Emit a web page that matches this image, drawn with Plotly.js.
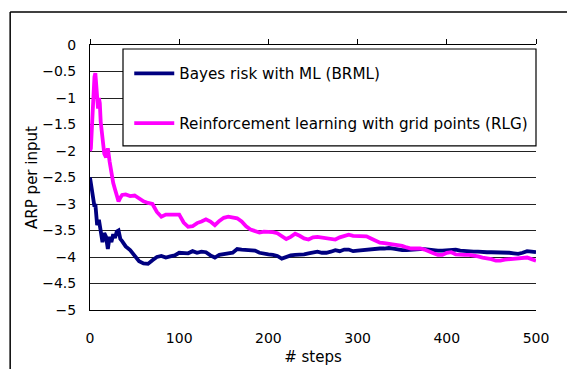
<!DOCTYPE html>
<html>
<head>
<meta charset="utf-8">
<script src="https://cdn.plot.ly/plotly-3.0.1.min.js"></script>
<style>html,body{margin:0;padding:0;background:#fff;}#chart{width:567px;height:369px;}</style>
</head>
<body>
<div id="chart"></div>
<script>
// Bayes risk with ML (BRML)
const stepsBRML = [0,2,4,5,6,8,10,12,14,16,18,20,22,24,26,28,30,32,34,36,40,45,50,55,60,65,70,75,80,85,90,95,100,105,110,115,120,125,130,135,140,145,150,155,160,165,170,175,180,185,190,195,200,205,210,215,220,225,230,235,240,245,250,255,260,265,270,275,280,285,290,295,300,305,310,315,320,325,330,335,340,345,350,355,360,365,370,375,380,385,390,395,400,405,410,415,420,425,430,435,440,445,450,455,460,465,470,475,480,485,490,495,500];
const brml = [-2.5,-2.75,-2.95,-3.05,-3.0,-3.4,-3.3,-3.55,-3.72,-3.55,-3.62,-3.85,-3.62,-3.72,-3.57,-3.64,-3.52,-3.5,-3.66,-3.7,-3.8,-3.87,-3.98,-4.08,-4.12,-4.13,-4.06,-4.0,-3.98,-4.01,-3.99,-3.97,-3.92,-3.93,-3.93,-3.89,-3.92,-3.9,-3.91,-3.97,-4.01,-3.96,-3.94,-3.93,-3.92,-3.85,-3.86,-3.87,-3.88,-3.88,-3.92,-3.94,-3.95,-3.96,-3.98,-4.03,-4.0,-3.97,-3.96,-3.96,-3.95,-3.93,-3.92,-3.9,-3.92,-3.92,-3.9,-3.87,-3.89,-3.86,-3.86,-3.89,-3.88,-3.87,-3.87,-3.86,-3.84,-3.84,-3.84,-3.83,-3.84,-3.86,-3.87,-3.87,-3.86,-3.85,-3.85,-3.85,-3.86,-3.88,-3.88,-3.88,-3.87,-3.87,-3.86,-3.88,-3.89,-3.89,-3.9,-3.9,-3.91,-3.91,-3.91,-3.91,-3.92,-3.92,-3.92,-3.93,-3.94,-3.92,-3.89,-3.9,-3.91];

// Reinforcement learning with grid points (RLG)
const stepsRLG = [0,1,2,3,4,5,6,7,8,9,10,11,12,14,16,18,20,22,24,26,28,30,32,34,36,40,45,50,55,60,65,70,75,80,85,90,95,100,105,110,115,120,125,130,135,140,145,150,155,160,165,170,175,180,185,190,195,200,205,210,215,220,225,230,235,240,245,250,255,260,265,270,275,280,285,290,295,300,305,310,315,320,325,330,335,340,345,350,355,360,365,370,375,380,385,390,395,400,405,410,415,420,425,430,435,440,445,450,455,460,465,470,475,480,485,490,495,500];
const rlg = [-2.0,-1.95,-1.6,-1.2,-0.8,-0.6,-0.53,-0.7,-0.9,-1.2,-1.0,-1.1,-1.45,-1.85,-2.05,-2.12,-1.95,-2.2,-2.45,-2.6,-2.72,-2.85,-2.95,-2.88,-2.83,-2.82,-2.85,-2.84,-2.9,-2.95,-2.98,-3.0,-3.15,-3.24,-3.2,-3.2,-3.19,-3.2,-3.35,-3.43,-3.42,-3.36,-3.33,-3.29,-3.33,-3.4,-3.32,-3.26,-3.24,-3.25,-3.27,-3.33,-3.42,-3.48,-3.51,-3.54,-3.52,-3.52,-3.53,-3.55,-3.6,-3.66,-3.62,-3.56,-3.6,-3.65,-3.67,-3.63,-3.62,-3.63,-3.65,-3.66,-3.67,-3.63,-3.6,-3.58,-3.6,-3.6,-3.6,-3.61,-3.65,-3.7,-3.73,-3.74,-3.75,-3.76,-3.77,-3.79,-3.82,-3.84,-3.84,-3.84,-3.86,-3.9,-3.93,-3.96,-3.96,-3.92,-3.91,-3.95,-3.96,-3.96,-3.96,-3.97,-3.99,-4.01,-4.02,-4.04,-4.07,-4.07,-4.05,-4.04,-4.04,-4.03,-4.02,-4.01,-4.04,-4.07];

const xTicks = [0,100,200,300,400,500];
const yTicks = [0,-0.5,-1,-1.5,-2,-2.5,-3,-3.5,-4,-4.5,-5];
const yTickText = ['0','−0.5','−1','−1.5','−2','−2.5','−3','−3.5','−4','−4.5','−5'];

const FONT = 'DejaVu Sans, sans-serif';

const traces = [
  {x: stepsBRML, y: brml, type: 'scatter', mode: 'lines', name: 'Bayes risk with ML (BRML)',
   line: {color: '#000080', width: 3.8}, legendgroup: 'a'},
  {x: stepsRLG, y: rlg, type: 'scatter', mode: 'lines', name: 'Reinforcement learning with grid points (RLG)',
   line: {color: '#FF00FF', width: 3.8}, legendgroup: 'b', xaxis: 'x2'}
];

const layout = {
  width: 567, height: 369,
  margin: {l: 90, r: 31, t: 45, b: 59},
  paper_bgcolor: '#fff', plot_bgcolor: '#fff',
  font: {family: FONT, size: 14, color: '#000'},
  showlegend: true,
  legend: {x: 0.088, y: 0.955, xanchor: 'left', yanchor: 'top',
           bgcolor: 'rgba(0,0,0,0)', borderwidth: 0, itemwidth: 40,
           font: {family: FONT, size: 15.2, color: '#000'}, tracegroupgap: 27},
  xaxis: {range: [0, 500], tickvals: xTicks, ticks: '', showgrid: false, zeroline: false,
          showline: true, linecolor: '#000', linewidth: 1,
          tickfont: {family: FONT, size: 14}, ticklabelstandoff: 15,
          title: {text: '# steps', font: {family: FONT, size: 15}, standoff: 6}},
  xaxis2: {range: [0, 500], overlaying: 'x', side: 'top', tickvals: xTicks, ticks: 'outside', ticklen: 5,
           tickcolor: '#000', showticklabels: false, showgrid: false, zeroline: false,
           showline: true, linecolor: '#000', linewidth: 1},
  yaxis: {range: [-5, 0], tickvals: yTicks, ticktext: yTickText, ticks: '', showgrid: true,
          gridcolor: '#222', gridwidth: 1, zeroline: false, showline: true, linecolor: '#000', linewidth: 1,
          tickfont: {family: FONT, size: 14}, ticklabelstandoff: 10,
          title: {text: 'ARP per input', font: {family: FONT, size: 15}, standoff: 0}},
  shapes: [
    {type: 'line', xref: 'paper', yref: 'paper', x0: -0.179, x1: -0.179, y0: 1.1245, y1: -0.3,
     line: {color: '#000', width: 1.5}},
    {type: 'line', xref: 'paper', yref: 'paper', x0: -0.179, x1: 1.2, y0: 1.1245, y1: 1.1245,
     line: {color: '#000', width: 1.5}},
    {type: 'rect', xref: 'paper', yref: 'paper', layer: 'above', x0: 0.074, x1: 1.0, y0: 0.619, y1: 0.985,
     fillcolor: '#fff', line: {color: '#000', width: 1.2}}
  ]
};

Plotly.newPlot('chart', traces, layout, {displayModeBar: false, staticPlot: true});
</script>
</body>
</html>
